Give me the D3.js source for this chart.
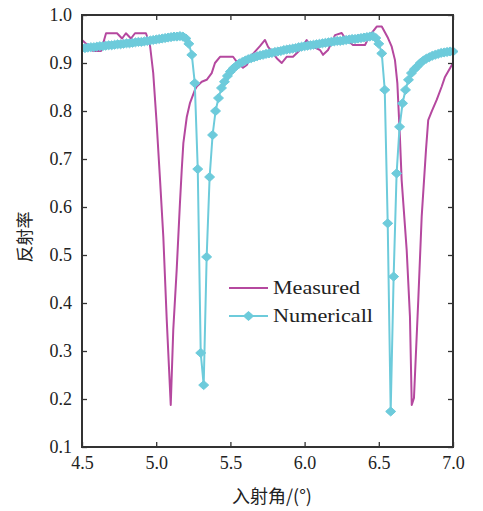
<!DOCTYPE html>
<html><head><meta charset="utf-8">
<script src="https://cdn.jsdelivr.net/npm/d3@7"></script>
<style>body{margin:0;background:#fff}svg{display:block}</style>
</head><body><svg id="c" width="483" height="511"></svg>
<script>
// ---- data ----
const xTicks = [4.5, 5.0, 5.5, 6.0, 6.5, 7.0];
const xTickLabels = ["4.5", "5.0", "5.5", "6.0", "6.5", "7.0"];
const yTicks = [0.1, 0.2, 0.3, 0.4, 0.5, 0.6, 0.7, 0.8, 0.9, 1.0];
const yTickLabels = ["0.1", "0.2", "0.3", "0.4", "0.5", "0.6", "0.7", "0.8", "0.9", "1.0"];
const seriesNames = ["Measured", "Numericall"];
const xTitle = "入射角/(°)";
const yTitle = "反射率";

const measuredX = [4.50, 4.527, 4.554, 4.574, 4.628, 4.662, 4.736, 4.770, 4.796, 4.830, 4.857, 4.931,
  4.958, 4.980, 5.003, 5.026, 5.048, 5.071, 5.098,
  5.115, 5.138, 5.160, 5.172, 5.183, 5.206, 5.228, 5.261, 5.273, 5.307, 5.340, 5.374, 5.396, 5.430,
  5.518, 5.542, 5.585, 5.610, 5.646, 5.699, 5.733, 5.753, 5.812, 5.846, 5.879, 5.922, 5.969, 6.014,
  6.036, 6.104, 6.124, 6.158, 6.205, 6.250, 6.272, 6.326, 6.407, 6.441, 6.486, 6.520, 6.562, 6.587,
  6.609, 6.625, 6.643, 6.654, 6.688, 6.710, 6.722, 6.737, 6.766, 6.789, 6.818, 6.833, 6.856, 6.890,
  6.924, 6.946, 7.00];
const measuredY = [0.948, 0.940, 0.933, 0.925, 0.925, 0.962, 0.962, 0.951, 0.962, 0.951, 0.962, 0.962,
  0.9375, 0.879, 0.775, 0.656, 0.5375, 0.365, 0.1875,
  0.344, 0.469, 0.608, 0.677, 0.733, 0.7875, 0.817, 0.844, 0.851, 0.861, 0.865, 0.879, 0.900, 0.913,
  0.913, 0.903, 0.890, 0.896, 0.917, 0.935, 0.948, 0.934, 0.910, 0.900, 0.913, 0.913, 0.927, 0.948,
  0.9375, 0.927, 0.917, 0.927, 0.958, 0.9625, 0.952, 0.9375, 0.9375, 0.958, 0.976, 0.976, 0.952, 0.934,
  0.906, 0.858, 0.740, 0.656, 0.510, 0.371, 0.1875, 0.202, 0.406, 0.580, 0.719, 0.781, 0.7985, 0.823,
  0.851, 0.871, 0.900];

const numericX = [4.50, 4.52, 4.54, 4.56, 4.58, 4.60, 4.62, 4.64, 4.66, 4.68, 4.70, 4.72, 4.74, 4.76, 4.78,
  4.80, 4.82, 4.84, 4.86, 4.88, 4.90, 4.92, 4.94, 4.96, 4.98, 5.00, 5.02, 5.04, 5.06, 5.08, 5.10, 5.12,
  5.14, 5.16, 5.18, 5.20, 5.22, 5.24, 5.26, 5.28, 5.30, 5.32, 5.34, 5.36, 5.38, 5.40, 5.42, 5.44, 5.46,
  5.48, 5.50, 5.52, 5.54, 5.56, 5.58, 5.60, 5.62, 5.64, 5.66, 5.68, 5.70, 5.72, 5.74, 5.76, 5.78, 5.80,
  5.82, 5.84, 5.86, 5.88, 5.90, 5.92, 5.94, 5.96, 5.98, 6.00, 6.02, 6.04, 6.06, 6.08, 6.10, 6.12, 6.14,
  6.16, 6.18, 6.20, 6.22, 6.24, 6.26, 6.28, 6.30, 6.32, 6.34, 6.36, 6.38, 6.40, 6.42, 6.44, 6.46, 6.48,
  6.50, 6.52, 6.54, 6.56, 6.58, 6.60, 6.62, 6.64, 6.66, 6.68, 6.70, 6.72, 6.74, 6.76, 6.78, 6.80, 6.82,
  6.84, 6.86, 6.88, 6.90, 6.92, 6.94, 6.96, 6.98, 7.00];
const numericY = [0.931, 0.931, 0.932, 0.933, 0.933, 0.934, 0.935, 0.935, 0.936, 0.937, 0.937, 0.938, 0.939, 0.939, 0.940,
  0.941, 0.941, 0.942, 0.943, 0.944, 0.944, 0.945, 0.946, 0.947, 0.948, 0.949, 0.950, 0.951, 0.952, 0.953, 0.954, 0.955,
  0.955, 0.956, 0.955, 0.951, 0.940, 0.917, 0.858, 0.679, 0.296, 0.229, 0.496, 0.6625, 0.750, 0.800, 0.827, 0.848, 0.861,
  0.873, 0.882, 0.889, 0.894, 0.899, 0.902, 0.905, 0.908, 0.910, 0.912, 0.914, 0.916, 0.917, 0.919, 0.920, 0.921, 0.923,
  0.924, 0.925, 0.927, 0.928, 0.929, 0.930, 0.931, 0.933, 0.934, 0.935, 0.936, 0.937, 0.938, 0.939, 0.940, 0.941, 0.942,
  0.943, 0.944, 0.945, 0.946, 0.946, 0.947, 0.948, 0.949, 0.950, 0.950, 0.951, 0.952, 0.953, 0.954, 0.955, 0.956, 0.952,
  0.940, 0.920, 0.844, 0.566, 0.174, 0.455, 0.670, 0.767, 0.816, 0.844, 0.865, 0.879, 0.887, 0.893, 0.900, 0.905, 0.909,
  0.912, 0.915, 0.917, 0.919, 0.921, 0.922, 0.923, 0.924, 0.924];

// ---- layout ----
const L = 82, R = 453, T = 15, B = 447;
const colM = "#b5489f", colN = "#6dcbdb", axisCol = "#333";
const svg = d3.select("#c");
const x = d3.scaleLinear().domain([4.5, 7.0]).range([L, R]);
const y = d3.scaleLinear().domain([0.1, 1.0]).range([B, T]);
const serif = "'Liberation Serif', 'Times New Roman', serif";

svg.append("defs").append("clipPath").attr("id", "clip")
  .append("rect").attr("x", L).attr("y", 0).attr("width", 483 - L).attr("height", 511);

const measured = measuredX.map((v, i) => [v, measuredY[i]]);
const numeric = numericX.map((v, i) => [v, numericY[i]]);
const line = d3.line().x(d => x(d[0])).y(d => y(d[1]));

const g = svg.append("g").attr("clip-path", "url(#clip)");
g.append("path").datum(measured).attr("d", line).attr("fill", "none")
  .attr("stroke", colM).attr("stroke-width", 2).attr("stroke-linejoin", "round");

// star marker
function starPath(rx, ry, ri) {
  return `M${-rx},0L${-ri},${-ri}L0,${-ry}L${ri},${-ri}L${rx},0L${ri},${ri}L0,${ry}L${-ri},${ri}Z`;
}
const sp = starPath(5, 4.5, 2.4);
g.append("path").datum(numeric).attr("d", line).attr("fill", "none")
  .attr("stroke", colN).attr("stroke-width", 2).attr("stroke-linejoin", "round");
g.selectAll("path.mk").data(numeric).enter().append("path").attr("class", "mk")
  .attr("d", sp).attr("transform", d => `translate(${x(d[0])},${y(d[1])})`)
  .attr("fill", colN).attr("stroke", colN).attr("stroke-width", 1);

// axes (frame with inward ticks)
const tickLen = 5;
const axB = d3.axisBottom(x).tickValues(xTicks).tickSizeInner(-tickLen).tickSizeOuter(0).tickPadding(9)
  .tickFormat((d, i) => xTickLabels[i]);
const axT = d3.axisTop(x).tickValues(xTicks).tickSizeInner(-tickLen).tickSizeOuter(0).tickFormat("");
const axL = d3.axisLeft(y).tickValues(yTicks).tickSizeInner(-tickLen).tickSizeOuter(0).tickPadding(10)
  .tickFormat((d, i) => yTickLabels[i]);
const axR = d3.axisRight(y).tickValues(yTicks).tickSizeInner(-tickLen).tickSizeOuter(0).tickFormat("");

function style(sel) {
  sel.select(".domain").remove();
  sel.selectAll("line").attr("stroke", axisCol).attr("stroke-width", 1.3);
  sel.selectAll("text").attr("fill", "#222").style("font-family", serif).style("font-size", "18px");
}
svg.append("g").attr("transform", `translate(0,${B})`).call(axB).call(style);
svg.append("g").attr("transform", `translate(0,${T})`).call(axT).call(style);
svg.append("g").attr("transform", `translate(${L},0)`).call(axL).call(style);
svg.append("g").attr("transform", `translate(${R},0)`).call(axR).call(style);

svg.append("rect").attr("x", L).attr("y", T).attr("width", R - L).attr("height", B - T)
  .attr("fill", "none").attr("stroke", axisCol).attr("stroke-width", 2);

// titles
svg.append("text").attr("x", 272).attr("y", 503).attr("text-anchor", "middle")
  .style("font-family", "'Noto Sans CJK SC', sans-serif").style("font-size", "18px").attr("fill", "#222")
  .text(xTitle);
svg.append("text").attr("transform", "translate(31,237) rotate(-90)").attr("text-anchor", "middle")
  .style("font-family", "'Noto Sans CJK SC', sans-serif").style("font-size", "17px").attr("fill", "#222")
  .text(yTitle);

// legend
const lg = svg.append("g");
const ly = [288, 316];
lg.append("line").attr("x1", 229).attr("x2", 268).attr("y1", ly[0]).attr("y2", ly[0])
  .attr("stroke", colM).attr("stroke-width", 2);
lg.append("line").attr("x1", 229).attr("x2", 268).attr("y1", ly[1]).attr("y2", ly[1])
  .attr("stroke", colN).attr("stroke-width", 2);
lg.append("path").attr("d", sp).attr("transform", `translate(248.5,${ly[1]})`)
  .attr("fill", colN).attr("stroke", colN).attr("stroke-width", 1);
const lw = [87, 100];
seriesNames.forEach((n, i) => {
  lg.append("text").attr("x", 273).attr("y", ly[i] + 6).text(n)
    .style("font-family", serif).style("font-size", "19px").attr("fill", "#222")
    .attr("textLength", lw[i]).attr("lengthAdjust", "spacingAndGlyphs");
});
</script></body></html>
